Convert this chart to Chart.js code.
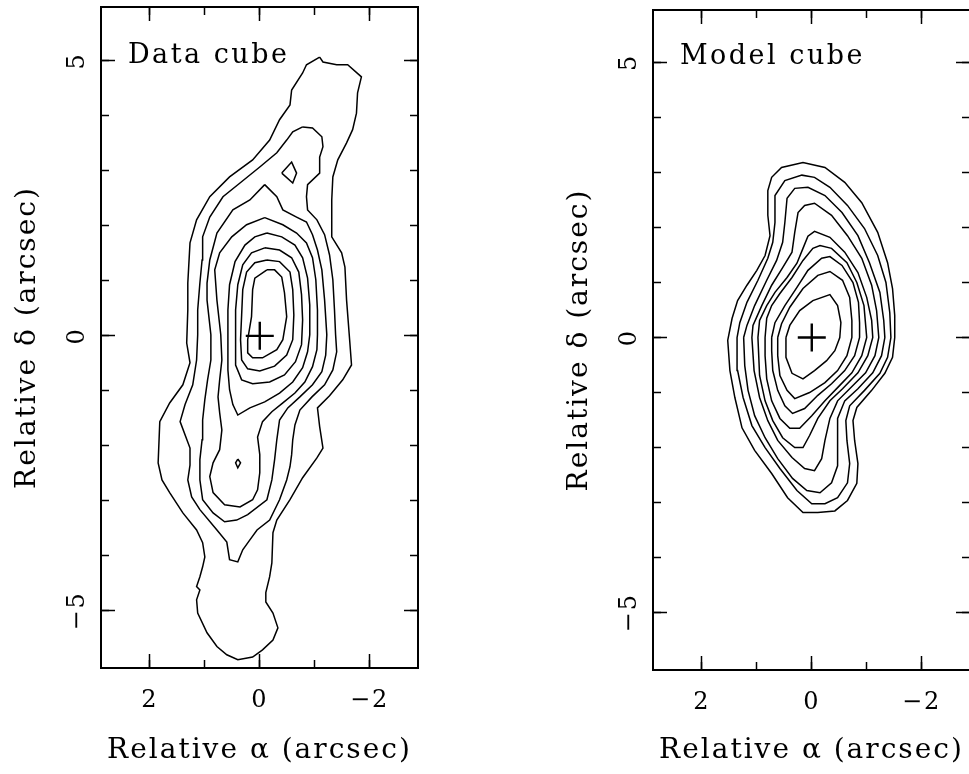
<!DOCTYPE html>
<html><head><meta charset="utf-8">
<script src="https://cdn.jsdelivr.net/npm/chart.js@4.4.0/dist/chart.umd.min.js"></script>
<style>
html,body{margin:0;padding:0;background:#fff;}
#wrap{position:relative;width:969px;height:774px;overflow:hidden;background:#fff;}
.pane{position:absolute;top:0;width:484px;height:774px;}
</style></head><body>
<div id="wrap">
<div class="pane" style="left:0px"><canvas id="c1" width="484" height="774"></canvas></div>
<div class="pane" style="left:552px"><canvas id="c2" width="484" height="774"></canvas></div>
</div>
<script>
// ---------- tick values ----------
const xMajorTicks = [2, 0, -2];
const xMinorTicks = [2, 1, 0, -1, -2];
const yMajorTicks = [5, 0, -5];
const yMinorTicks = [-5, -4, -3, -2, -1, 0, 1, 2, 3, 4, 5];
const crossCenter = [0, 0];

// ---------- Data cube contours (arcsec: [alpha, delta]) ----------
const dataA = [[-1.09,5.07],[-1.15,4.98],[-1.40,4.93],[-1.60,4.93],[-1.85,4.71],[-1.78,4.42],[-1.76,4.05],[-1.69,3.75],[-1.58,3.51],[-1.42,3.20],[-1.33,2.89],[-1.31,2.47],[-1.31,1.80],[-1.49,1.51],[-1.55,1.25],[-1.58,0.65],[-1.64,-0.13],[-1.67,-0.53],[-1.51,-0.80],[-1.27,-1.09],[-1.05,-1.31],[-1.09,-1.65],[-1.15,-2.04],[-1.04,-2.22],[-0.78,-2.58],[-0.55,-2.98],[-0.31,-3.35],[-0.24,-3.58],[-0.22,-4.13],[-0.18,-4.38],[-0.11,-4.67],[-0.11,-4.84],[-0.24,-5.04],[-0.33,-5.31],[-0.24,-5.53],[-0.05,-5.71],[0.13,-5.84],[0.40,-5.89],[0.60,-5.80],[0.78,-5.65],[0.96,-5.40],[1.13,-5.04],[1.15,-4.80],[1.09,-4.62],[1.15,-4.56],[1.09,-4.38],[1.04,-4.20],[1.00,-4.02],[1.04,-3.76],[1.15,-3.53],[1.40,-3.22],[1.64,-2.85],[1.78,-2.62],[1.85,-2.31],[1.82,-1.56],[1.64,-1.22],[1.40,-0.89],[1.27,-0.49],[1.33,-0.13],[1.31,0.47],[1.31,0.96],[1.27,1.69],[1.15,2.11],[0.91,2.53],[0.55,2.89],[0.13,3.20],[-0.18,3.56],[-0.36,3.93],[-0.55,4.20],[-0.58,4.47],[-0.78,4.78],[-0.85,4.93]];
const dataB = [[-0.78,3.80],[-0.96,3.78],[-1.13,3.62],[-1.15,3.44],[-1.09,3.25],[-1.09,2.96],[-0.87,2.75],[-0.85,2.53],[-0.87,2.29],[-1.04,2.11],[-1.18,1.84],[-1.27,1.47],[-1.33,1.02],[-1.36,0.47],[-1.38,0.02],[-1.40,-0.29],[-1.33,-0.62],[-1.18,-0.89],[-0.95,-1.11],[-0.73,-1.35],[-0.64,-1.62],[-0.60,-1.89],[-0.58,-2.16],[-0.55,-2.38],[-0.49,-2.62],[-0.36,-2.98],[-0.18,-3.35],[0.05,-3.53],[0.18,-3.71],[0.31,-3.89],[0.40,-4.11],[0.55,-4.07],[0.60,-3.75],[0.78,-3.53],[1.09,-3.16],[1.24,-2.93],[1.31,-2.62],[1.27,-2.35],[1.27,-2.04],[1.45,-1.56],[1.36,-1.25],[1.22,-0.89],[1.15,-0.44],[1.13,0.02],[1.13,0.47],[1.09,0.96],[1.05,1.38],[1.04,1.80],[0.91,2.16],[0.67,2.53],[0.36,2.78],[0,3.07],[-0.31,3.33],[-0.49,3.56],[-0.60,3.71]];
const dataC = [[-0.09,2.75],[-0.31,2.53],[-0.42,2.29],[-0.67,2.16],[-0.85,2.07],[-0.96,1.84],[-1.05,1.56],[-1.13,1.20],[-1.18,0.65],[-1.22,0.02],[-1.20,-0.35],[-1.13,-0.65],[-0.96,-0.89],[-0.73,-1.11],[-0.51,-1.31],[-0.36,-1.53],[-0.31,-1.89],[-0.27,-2.25],[-0.22,-2.62],[-0.13,-2.98],[0.22,-3.25],[0.42,-3.35],[0.64,-3.38],[0.85,-3.22],[1.04,-2.98],[1.09,-2.62],[1.09,-2.25],[1.05,-1.89],[1.04,-1.53],[1.00,-1.16],[0.95,-0.80],[0.89,-0.44],[0.89,0.02],[0.96,0.65],[0.96,0.96],[0.91,1.38],[0.78,1.87],[0.49,2.29],[0.18,2.47]];
const dataCIsland = [[-0.40,2.96],[-0.58,3.16],[-0.67,2.96],[-0.60,2.78]];
const dataD = [[-0.09,2.15],[-0.42,2.02],[-0.67,1.87],[-0.85,1.69],[-0.96,1.42],[-1.02,1.02],[-1.05,0.47],[-1.05,0.02],[-1.04,-0.25],[-0.96,-0.56],[-0.82,-0.84],[-0.64,-1.04],[-0.42,-1.22],[-0.22,-1.38],[-0.05,-1.56],[0.04,-1.84],[0,-2.16],[0,-2.49],[0.04,-2.80],[0.13,-2.98],[0.36,-3.11],[0.64,-3.07],[0.85,-2.85],[0.91,-2.56],[0.85,-2.31],[0.73,-2.07],[0.69,-1.71],[0.73,-1.40],[0.76,-1.11],[0.73,-0.80],[0.69,-0.44],[0.71,0.02],[0.78,0.65],[0.82,1.20],[0.73,1.51],[0.51,1.80],[0.24,2.02]];
const dataE = [[-0.13,1.87],[-0.40,1.80],[-0.64,1.65],[-0.78,1.42],[-0.87,1.05],[-0.91,0.56],[-0.91,0.02],[-0.87,-0.29],[-0.78,-0.58],[-0.60,-0.84],[-0.36,-1.04],[-0.09,-1.20],[0.18,-1.31],[0.40,-1.44],[0.49,-1.25],[0.55,-0.98],[0.58,-0.62],[0.58,-0.07],[0.58,0.47],[0.55,0.93],[0.45,1.35],[0.27,1.65],[0.09,1.80]];
const dataEIsland = [[0.40,-2.24],[0.35,-2.31],[0.40,-2.40],[0.44,-2.31]];
const dataF = [[-0.09,1.60],[-0.36,1.56],[-0.58,1.42],[-0.71,1.16],[-0.76,0.75],[-0.78,0.29],[-0.76,-0.16],[-0.65,-0.47],[-0.45,-0.71],[-0.18,-0.84],[0.13,-0.87],[0.33,-0.80],[0.44,-0.53],[0.44,-0.07],[0.44,0.47],[0.40,0.93],[0.31,1.29],[0.15,1.51]];
const dataG = [[-0.13,1.38],[-0.36,1.35],[-0.55,1.16],[-0.60,0.84],[-0.62,0.38],[-0.60,-0.07],[-0.49,-0.35],[-0.27,-0.55],[0,-0.64],[0.22,-0.60],[0.33,-0.44],[0.35,-0.07],[0.33,0.38],[0.31,0.84],[0.24,1.16],[0.09,1.33]];
const dataH = [[-0.13,1.20],[-0.27,1.20],[-0.40,1.07],[-0.45,0.78],[-0.49,0.35],[-0.42,-0.07],[-0.31,-0.25],[-0.05,-0.40],[0.13,-0.40],[0.22,-0.31],[0.22,-0.07],[0.15,0.35],[0.13,0.84],[0.09,1.05]];

// ---------- Model cube contours ----------
const model1 = [[1.53,-0.05],[1.45,0.35],[1.35,0.67],[1.18,0.95],[1.00,1.22],[0.85,1.49],[0.76,1.85],[0.80,2.22],[0.80,2.67],[0.73,2.91],[0.55,3.09],[0.16,3.18],[-0.24,3.09],[-0.60,2.82],[-0.91,2.45],[-1.20,1.91],[-1.38,1.36],[-1.47,0.89],[-1.51,0.40],[-1.51,0],[-1.47,-0.36],[-1.33,-0.65],[-1.09,-0.96],[-0.82,-1.27],[-0.75,-1.51],[-0.78,-1.87],[-0.84,-2.29],[-0.82,-2.65],[-0.65,-2.96],[-0.42,-3.15],[-0.11,-3.18],[0.16,-3.18],[0.44,-2.91],[0.73,-2.47],[1.04,-2.05],[1.27,-1.64],[1.40,-1.09],[1.49,-0.60]];
const model2 = [[1.36,0],[1.31,0.27],[1.18,0.64],[0.98,1.04],[0.80,1.44],[0.71,1.73],[0.67,2.09],[0.67,2.58],[0.49,2.85],[0.18,2.95],[-0.05,2.91],[-0.33,2.73],[-0.65,2.40],[-0.96,1.98],[-1.20,1.49],[-1.35,1.00],[-1.42,0.45],[-1.44,0],[-1.38,-0.36],[-1.24,-0.65],[-0.96,-0.96],[-0.69,-1.24],[-0.62,-1.51],[-0.64,-1.87],[-0.69,-2.29],[-0.65,-2.64],[-0.47,-2.91],[-0.24,-3.02],[0,-3.02],[0.27,-2.78],[0.58,-2.38],[0.85,-2.00],[1.09,-1.60],[1.25,-1.09],[1.35,-0.60]];
const model3 = [[1.24,0],[1.18,0.22],[1.04,0.58],[0.82,1.04],[0.64,1.40],[0.53,1.73],[0.49,2.09],[0.45,2.53],[0.31,2.71],[0.07,2.73],[-0.24,2.58],[-0.55,2.27],[-0.84,1.85],[-1.05,1.36],[-1.24,0.82],[-1.31,0.31],[-1.33,0],[-1.27,-0.33],[-1.11,-0.64],[-0.84,-0.93],[-0.60,-1.15],[-0.47,-1.47],[-0.47,-1.87],[-0.47,-2.33],[-0.36,-2.64],[-0.15,-2.82],[0.09,-2.78],[0.35,-2.56],[0.62,-2.20],[0.85,-1.82],[1.04,-1.42],[1.16,-0.96],[1.22,-0.51]];
const model4 = [[1.09,0],[1.07,0.22],[0.91,0.58],[0.73,0.95],[0.53,1.27],[0.36,1.55],[0.31,1.91],[0.25,2.27],[0.13,2.40],[-0.05,2.44],[-0.36,2.22],[-0.65,1.85],[-0.91,1.44],[-1.09,0.95],[-1.18,0.49],[-1.22,0],[-1.15,-0.33],[-0.98,-0.64],[-0.69,-0.93],[-0.47,-1.15],[-0.33,-1.47],[-0.24,-1.87],[-0.18,-2.20],[-0.05,-2.42],[0.13,-2.38],[0.36,-2.18],[0.62,-1.87],[0.80,-1.51],[0.95,-1.09],[1.05,-0.60]];
const model5 = [[0.98,0],[0.95,0.31],[0.82,0.58],[0.67,0.82],[0.45,1.09],[0.27,1.35],[0.16,1.62],[0.07,1.84],[-0.05,1.93],[-0.33,1.82],[-0.60,1.55],[-0.84,1.18],[-1.00,0.73],[-1.09,0.31],[-1.11,0],[-1.02,-0.33],[-0.84,-0.64],[-0.56,-0.93],[-0.33,-1.15],[-0.11,-1.47],[0.04,-1.78],[0.16,-2.00],[0.31,-2.00],[0.53,-1.82],[0.71,-1.51],[0.85,-1.15],[0.95,-0.69]];
const model6 = [[0.85,0],[0.82,0.35],[0.73,0.58],[0.58,0.80],[0.36,1.09],[0.16,1.40],[-0.02,1.62],[-0.15,1.67],[-0.36,1.62],[-0.64,1.36],[-0.82,1.00],[-0.95,0.58],[-1.00,0],[-0.91,-0.33],[-0.73,-0.64],[-0.47,-0.91],[-0.24,-1.15],[0,-1.42],[0.22,-1.65],[0.40,-1.65],[0.58,-1.47],[0.73,-1.15],[0.82,-0.75],[0.85,-0.33]];
const model7 = [[0.73,0],[0.67,0.27],[0.49,0.58],[0.27,0.91],[0.07,1.22],[-0.18,1.44],[-0.33,1.47],[-0.55,1.31],[-0.75,1.00],[-0.85,0.64],[-0.87,0.27],[-0.87,0],[-0.78,-0.33],[-0.60,-0.60],[-0.36,-0.84],[-0.11,-1.05],[0.13,-1.29],[0.35,-1.38],[0.49,-1.24],[0.62,-0.96],[0.71,-0.60],[0.73,-0.24]];
const model8 = [[0.62,0],[0.55,0.25],[0.40,0.55],[0.16,0.89],[-0.11,1.13],[-0.33,1.20],[-0.56,1.04],[-0.69,0.73],[-0.73,0.31],[-0.73,0],[-0.64,-0.33],[-0.47,-0.60],[-0.24,-0.82],[0.04,-1.00],[0.31,-1.11],[0.45,-0.96],[0.58,-0.69],[0.62,-0.33]];
const model9 = [[0.47,0],[0.40,0.22],[0.22,0.49],[-0.02,0.67],[-0.33,0.78],[-0.47,0.58],[-0.53,0.27],[-0.51,0],[-0.42,-0.24],[-0.27,-0.42],[-0.05,-0.60],[0.16,-0.75],[0.36,-0.65],[0.47,-0.36]];

const dataContours = [dataA, dataB, dataC, dataCIsland, dataD, dataE, dataEIsland, dataF, dataG, dataH];
const modelContours = [model1, model2, model3, model4, model5, model6, model7, model8, model9];

// ---------- styling ----------
const SERIF = "'DejaVu Serif', 'Liberation Serif', serif";
const INK = '#000';

function fmt(v) { return v < 0 ? '\u2212' + Math.abs(v) : String(v); }
function setTicks(arr) { return s => { s.ticks = arr.map(v => ({ value: v })); }; }

const textSpacing = {
  id: 'textSpacing',
  beforeDraw(chart, args, o) { if ('letterSpacing' in chart.ctx) chart.ctx.letterSpacing = o.spacing; },
  afterDraw(chart) { if ('letterSpacing' in chart.ctx) chart.ctx.letterSpacing = '0px'; }
};

const panelLabel = {
  id: 'panelLabel',
  afterDatasetsDraw(chart, args, o) {
    const { ctx, scales } = chart;
    ctx.save();
    ctx.font = o.font;
    ctx.fillStyle = INK;
    ctx.textAlign = 'left';
    ctx.textBaseline = 'alphabetic';
    if ('letterSpacing' in ctx) ctx.letterSpacing = o.spacing || '0px';
    ctx.fillText(o.text, scales.x.getPixelForValue(o.x), scales.y.getPixelForValue(o.y));
    ctx.restore();
  }
};

function contourDatasets(list) {
  const ds = list.map(c => ({
    data: c.concat([c[0]]).map(p => ({ x: p[0], y: p[1] })),
    showLine: true, borderColor: INK, borderWidth: 1.5, pointRadius: 0,
    fill: false, tension: 0
  }));
  ds.push({
    data: [{ x: crossCenter[0], y: crossCenter[1] }],
    showLine: false, pointStyle: 'cross', pointRadius: 14,
    pointBorderWidth: 2.4, pointBorderColor: INK, pointBackgroundColor: INK
  });
  return ds;
}

function noPad(s) { s.paddingTop = 0; s.paddingBottom = 0; s.paddingLeft = 0; s.paddingRight = 0; }

function buildScales(p) {
  const xLim = p.xLim, yLim = p.yLim;
  const frame = (axis, position, ticksArr, len, weight, border) => ({
    type: 'linear', axis, position, weight,
    min: axis === 'x' ? xLim[0] : yLim[0],
    max: axis === 'x' ? xLim[1] : yLim[1],
    reverse: axis === 'x',
    afterBuildTicks: setTicks(ticksArr),
    grid: { display: true, drawOnChartArea: false, drawTicks: true, tickLength: -len,
            tickColor: INK, tickWidth: 1.5, color: INK },
    border: { display: border, color: INK, width: 2 },
    ticks: { display: false },
    title: { display: false },
    afterFit: s => { if (axis === 'x') s.height = 0; else s.width = 0; noPad(s); }
  });
  const x = frame('x', 'bottom', xMajorTicks, 14, 2, true);
  x.ticks = { display: true, autoSkip: false, maxRotation: 0, minRotation: 0, padding: 32,
              color: INK, font: { family: SERIF, size: 24 }, callback: v => fmt(v) };
  x.title = { display: true, text: 'Relative \u03b1 (arcsec)', color: INK,
              font: { family: SERIF, size: 28 }, padding: { top: 0, bottom: 6 } };
  x.afterFit = s => { s.height = p.bottomH; noPad(s); };
  const y = frame('y', 'left', yMajorTicks, 14, 2, true);
  y.ticks = { display: true, autoSkip: false, minRotation: 90, maxRotation: 90, crossAlign: 'center',
              padding: 20, color: INK, font: { family: SERIF, size: 24 }, callback: v => fmt(v) };
  y.title = { display: true, text: 'Relative \u03b4 (arcsec)', color: INK,
              font: { family: SERIF, size: 28 }, padding: { top: 11, bottom: 0 } };
  y.afterFit = s => { s.width = 101; noPad(s); };
  return {
    x, y,
    xMinor: frame('x', 'bottom', xMinorTicks, 8, 1, false),
    xTop: frame('x', 'top', xMajorTicks, 14, 2, true),
    xTopMinor: frame('x', 'top', xMinorTicks, 8, 1, false),
    yMinor: frame('y', 'left', yMinorTicks, 8, 1, false),
    yRight: frame('y', 'right', yMajorTicks, 14, 2, true),
    yRightMinor: frame('y', 'right', yMinorTicks, 8, 1, false)
  };
}

function makeChart(id, contours, label, p) {
  return new Chart(document.getElementById(id), {
    type: 'scatter',
    data: { datasets: contourDatasets(contours) },
    options: {
      responsive: false, animation: false, devicePixelRatio: 1, events: [],
      layout: { autoPadding: false, padding: { top: p.top, right: 66, bottom: 0, left: 0 } },
      scales: buildScales(p),
      plugins: {
        legend: { display: false }, tooltip: { enabled: false },
        textSpacing: { spacing: '2px' },
        panelLabel: { text: label, x: 2.4, y: 4.96, font: "27px " + SERIF, spacing: '2.5px' }
      }
    },
    plugins: [textSpacing, panelLabel]
  });
}

makeChart('c1', dataContours, 'Data cube', { top: 7, bottomH: 106, xLim: [-2.88, 2.89], yLim: [-6.04, 5.98] });
makeChart('c2', modelContours, 'Model cube', { top: 10, bottomH: 104, xLim: [-2.88, 2.89], yLim: [-6.04, 5.95] });
</script>
</body></html>
